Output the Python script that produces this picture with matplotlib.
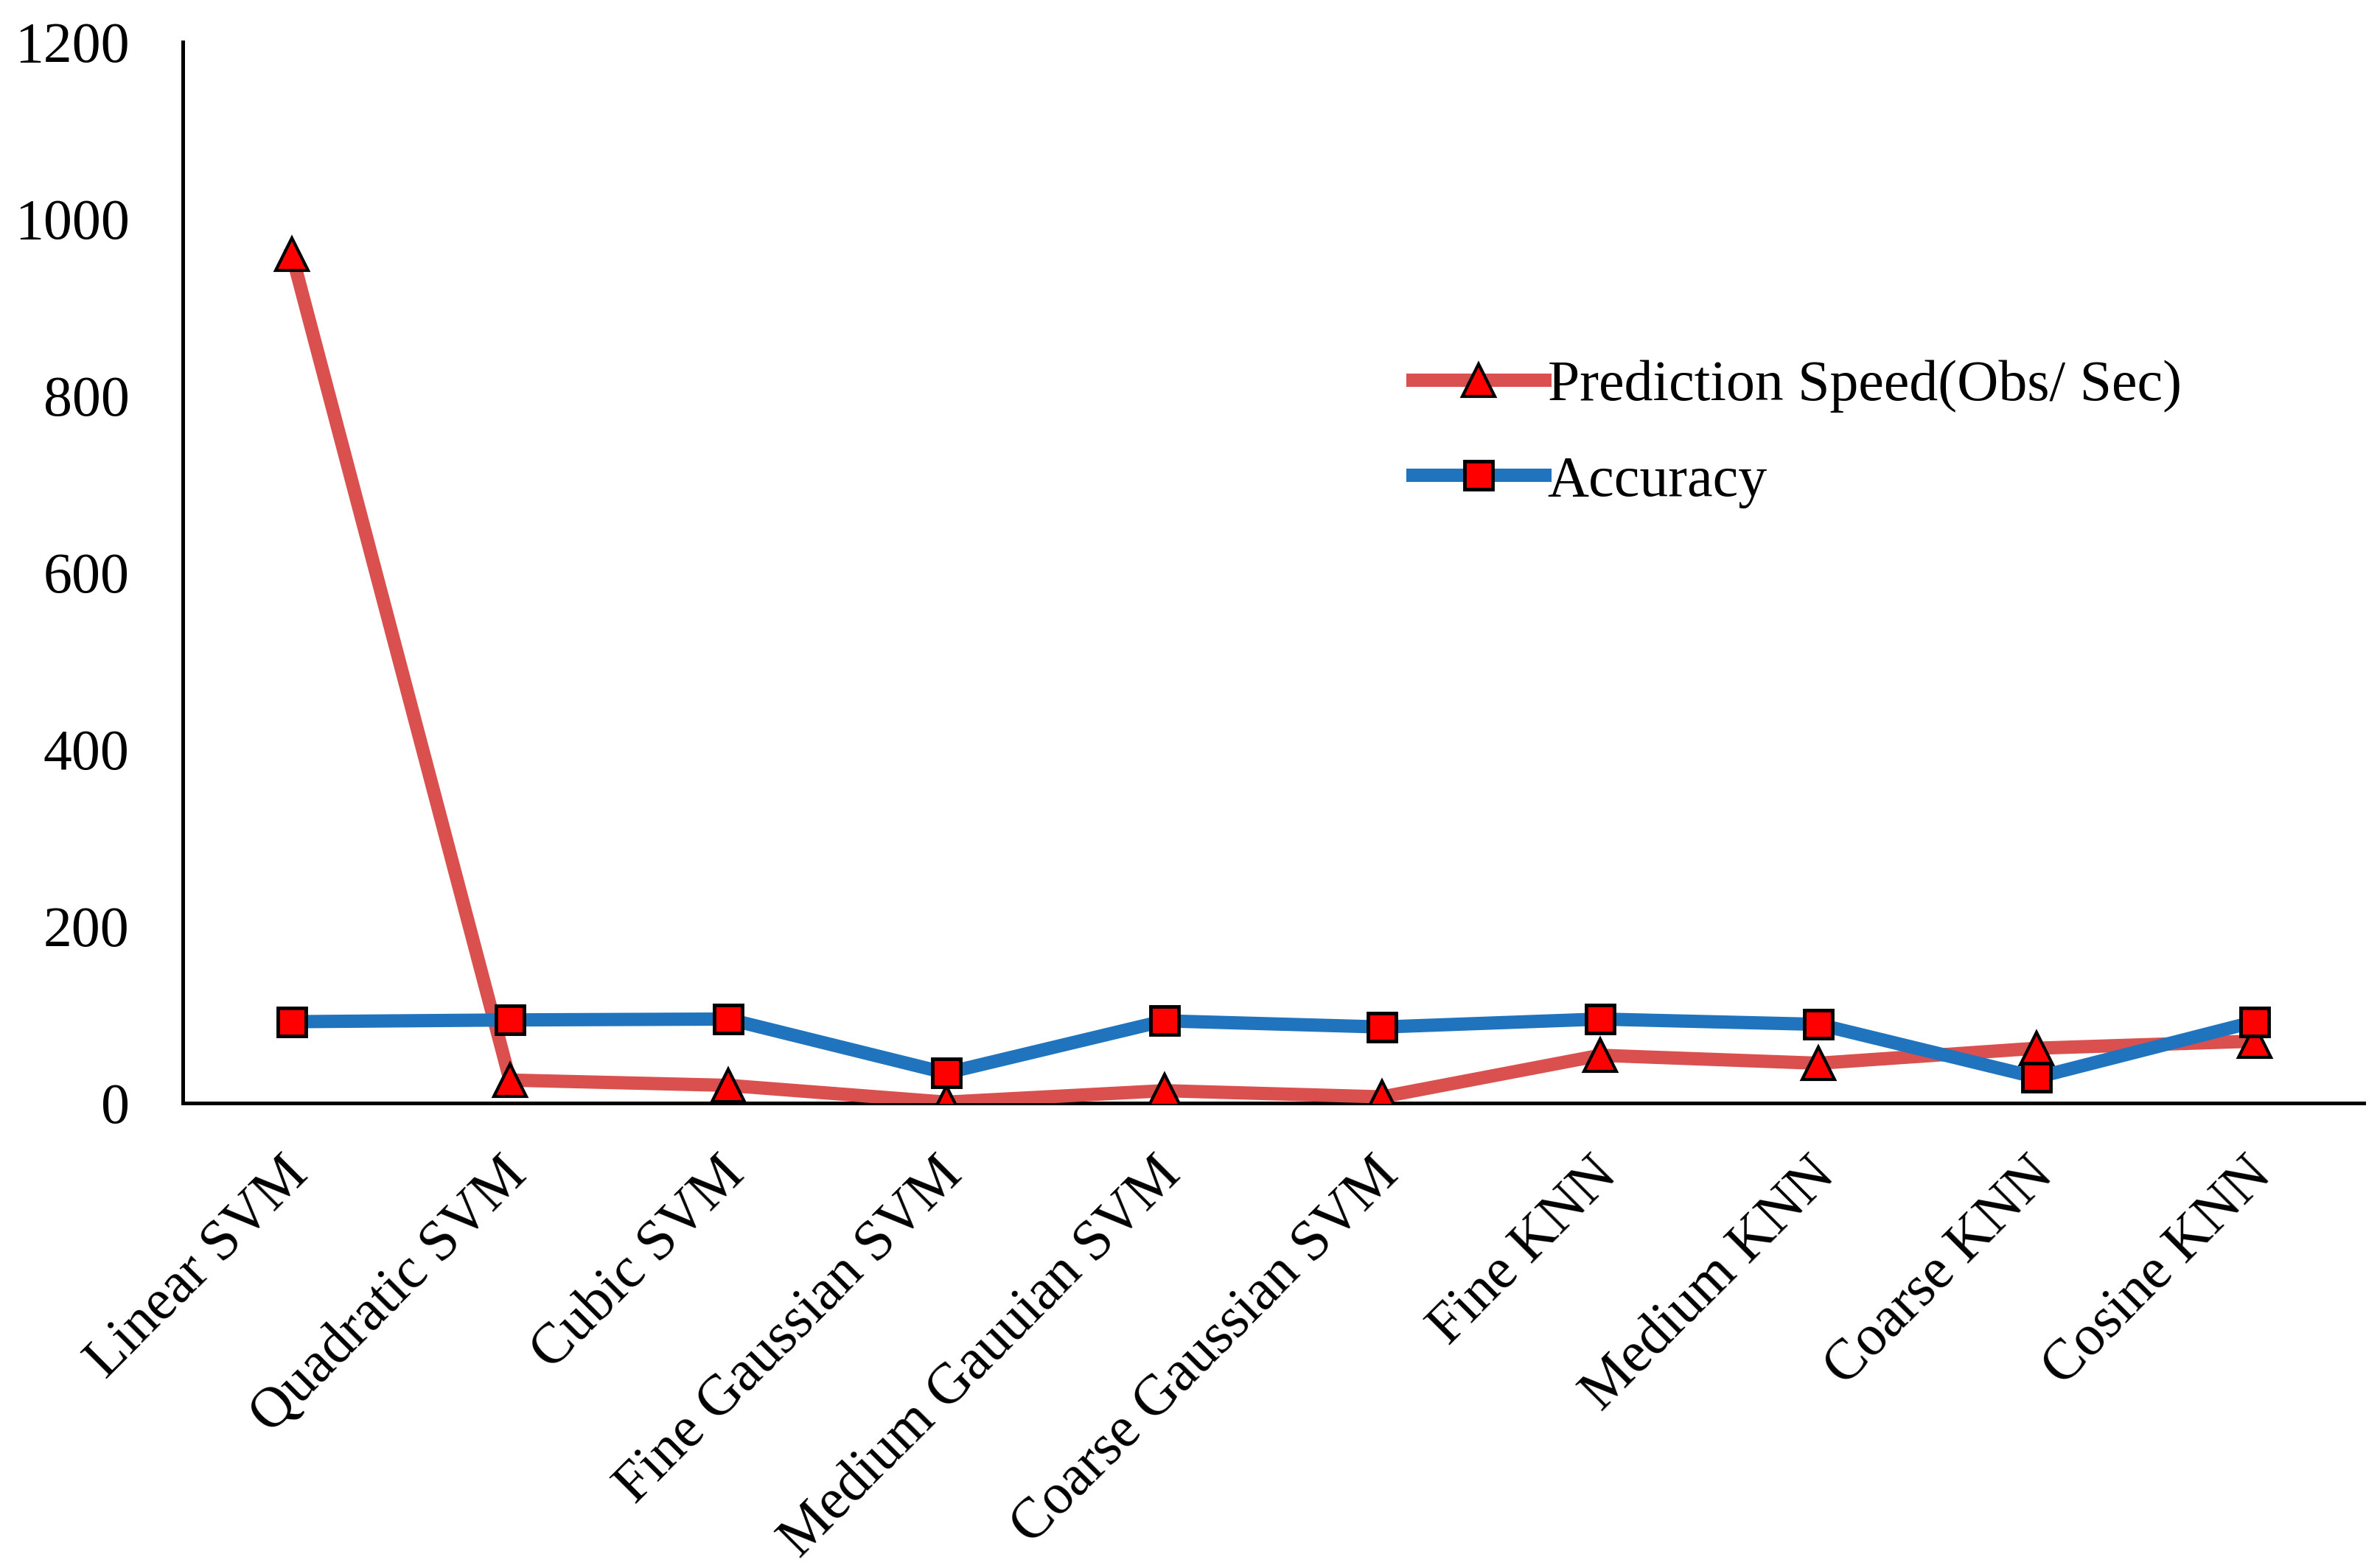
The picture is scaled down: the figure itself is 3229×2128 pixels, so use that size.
import matplotlib
matplotlib.use("Agg")
import matplotlib.pyplot as plt
from matplotlib.transforms import ScaledTranslation

categories = ["Linear SVM", "Quadratic SVM", "Cubic SVM", "Fine Gaussian SVM",
              "Medium Gauuian SVM", "Coarse Gaussian SVM", "Fine KNN",
              "Medium KNN", "Coarse KNN", "Cosine KNN"]
prediction_speed = [960, 26, 20, 1, 14, 7, 54, 45, 62, 70]
accuracy = [92, 94, 95, 34, 93, 86, 95, 89, 29, 92]
yticks = [0, 200, 400, 600, 800, 1000, 1200]

plt.rcParams['font.family'] = ['Liberation Serif', 'DejaVu Serif']

W, H = 3229, 2128
fig = plt.figure(figsize=(W / 100, H / 100), dpi=100)
ax = fig.add_axes([248 / W, 1 - 1497 / H, (3207 - 248) / W, (1497 - 57) / H])

x = list(range(len(categories)))
ax.plot(x, prediction_speed, color='#d9504f', lw=13, marker='^', ms=32,
        mfc='#ff0000', mec='black', mew=3, label='Prediction Speed(Obs/ Sec)',
        solid_joinstyle='round', zorder=3)
ax.plot(x, accuracy, color='#1f74bd', lw=13, marker='s', ms=28,
        mfc='#ff0000', mec='black', mew=3.5, label='Accuracy',
        solid_joinstyle='round', zorder=4)

ax.set_xlim(-0.5, len(categories) - 0.5)
ax.set_ylim(0, 1200)
ax.set_yticks(yticks)
ax.set_yticklabels([str(v) for v in yticks])
ax.set_xticks(x)
ax.set_xticklabels(categories, rotation=45, ha='right', rotation_mode='anchor')

ax.tick_params(axis='y', length=0, pad=52, labelsize=56)
ax.tick_params(axis='x', length=0, pad=44, labelsize=56)
offset = ScaledTranslation(-0.14, 0, fig.dpi_scale_trans)
for lab in ax.get_xticklabels():
    lab.set_transform(lab.get_transform() + offset)
for s in ['top', 'right']:
    ax.spines[s].set_visible(False)
for s in ['left', 'bottom']:
    ax.spines[s].set_linewidth(3.6)
    ax.spines[s].set_color('black')

leg = ax.legend(loc='upper left', bbox_to_anchor=(0.564, 0.70), frameon=False,
                fontsize=56, handlelength=2.3, handletextpad=0.05,
                labelspacing=0.74, borderpad=0, borderaxespad=0)

fig.savefig('out.png', dpi=100, facecolor='white')
